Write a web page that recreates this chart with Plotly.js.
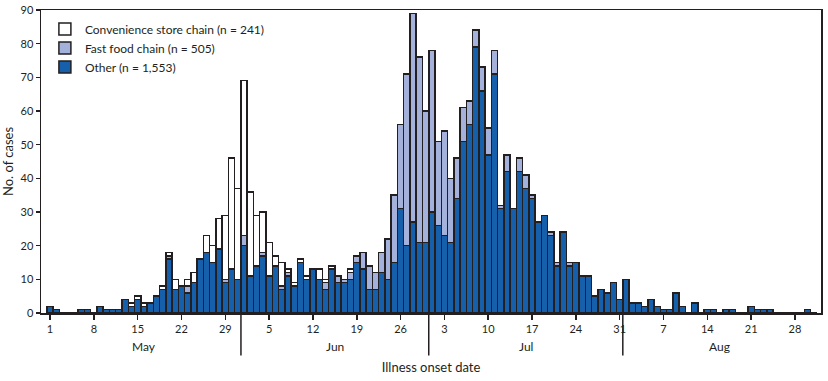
<!DOCTYPE html>
<html>
<head>
<meta charset="utf-8">
<script src="https://cdn.plot.ly/plotly-3.0.1.min.js"></script>
<style>html,body{margin:0;padding:0;background:#fff}#chart{width:828px;height:381px}</style>
</head>
<body>
<div id="chart"></div>
<script>
// Daily case counts, May 1 – Aug 31 (one entry per day)
const other = [
  // May 1-31
  2,1,0,0,0,1,1,0,2,1,1,1,4,2,4,2,3,5,7,16,7,8,6,9,16,18,15,19,9,13,10,
  // Jun 1-30
  20,11,14,17,11,14,7,11,8,15,10,13,10,7,13,9,9,10,15,13,7,7,12,10,15,31,20,27,21,21,
  // Jul 1-31
  30,26,23,21,34,51,56,79,66,47,71,31,42,31,42,37,34,27,29,23,14,24,14,15,11,11,5,7,6,9,4,
  // Aug 1-31
  10,3,3,2,4,2,1,1,6,2,0,3,0,1,1,0,1,1,0,0,2,1,1,1,0,0,0,0,0,1,0
];
const fastFood = [
  // May
  0,0,0,0,0,0,0,0,0,0,0,0,0,0,0,0,0,0,0,1,0,0,2,0,0,0,0,0,1,0,0,
  // Jun
  3,0,0,1,0,0,1,1,0,0,0,0,0,2,0,2,1,2,2,5,7,5,6,12,20,25,51,62,55,39,
  // Jul
  48,25,31,19,12,10,7,5,7,8,7,1,5,0,4,4,1,0,0,1,1,0,1,0,0,0,0,0,0,0,0,
  // Aug
  0,0,0,0,0,0,0,0,0,0,0,0,0,0,0,0,0,0,0,0,0,0,0,0,0,0,0,0,0,0,0
];
const convenience = [
  // May
  0,0,0,0,0,0,0,0,0,0,0,0,0,1,1,1,0,0,1,1,3,0,2,3,0,5,5,9,19,33,27,
  // Jun
  46,25,15,12,10,3,7,1,1,1,1,0,3,1,1,0,0,1,0,0,0,0,0,0,0,0,0,0,0,0,
  // Jul
  0,0,0,0,0,0,0,0,0,0,0,0,0,0,0,0,0,0,0,0,0,0,0,0,0,0,0,0,0,0,0,
  // Aug
  0,0,0,0,0,0,0,0,0,0,0,0,0,0,0,0,0,0,0,0,0,0,0,0,0,0,0,0,0,0,0
];
const seriesNames = ['Other (n = 1,553)', 'Fast food chain (n = 505)', 'Convenience store chain (n = 241)'];
const seriesColors = ['#1660AB', '#A3B1DB', '#FFFFFF'];
const tickLabels = ['1','8','15','22','29','5','12','19','26','3','10','17','24','31','7','14','21','28'];
const months = ['May','Jun','Jul','Aug'];
const monthLengths = [31,30,31,31];

const dayIndex = other.map((_, i) => i);
const ink = '#231F20';
const font = 'Lato, "Open Sans", sans-serif';

const traces = [other, fastFood, convenience].map((vals, k) => ({
  type: 'bar',
  x: dayIndex,
  y: vals,
  name: seriesNames[k],
  marker: {color: seriesColors[k], line: {color: ink, width: 1.5}},
  hoverinfo: 'x+y+name'
}));

const shapes = [];
const annotations = [];
let start = 0;
months.forEach((m, i) => {
  const len = monthLengths[i];
  annotations.push({
    xref: 'x', yref: 'paper', x: start + (len - 1) / 2, y: -0.11,
    text: m, showarrow: false, xanchor: 'center', yanchor: 'middle',
    font: {family: font, size: 12, color: ink}
  });
  if (i < months.length - 1) {
    const b = start + len - 0.5;
    shapes.push({type: 'line', xref: 'x', yref: 'paper', x0: b, x1: b, y0: 0, y1: -0.14,
      line: {color: ink, width: 1.5}});
  }
  start += len;
});

const layout = {
  width: 828, height: 381,
  margin: {l: 41, r: 7, t: 10, b: 68},
  paper_bgcolor: '#fff', plot_bgcolor: '#fff',
  barmode: 'stack', bargap: 0,
  showlegend: true,
  legend: {x: 0.005, y: 0.985, xanchor: 'left', yanchor: 'top', traceorder: 'reversed',
    bgcolor: 'rgba(0,0,0,0)', font: {family: font, size: 12, color: ink}},
  xaxis: {
    range: [-1.44, 123.16],
    tickmode: 'array', tickvals: tickLabels.map((_, i) => i * 7), ticktext: tickLabels,
    ticks: 'outside', ticklen: 5, tickwidth: 1.5, tickcolor: ink,
    showline: true, linecolor: ink, linewidth: 1.5, mirror: true,
    showgrid: false, zeroline: false,
    tickfont: {family: font, size: 11, color: ink},
    title: {text: 'Illness onset date', font: {family: font, size: 13, color: ink}, standoff: 29}
  },
  yaxis: {
    range: [0, 90], dtick: 10, tick0: 0,
    ticks: 'outside', ticklen: 4, tickwidth: 1.5, tickcolor: ink,
    showline: true, linecolor: ink, linewidth: 1.5, mirror: true,
    showgrid: false, zeroline: false,
    tickfont: {family: font, size: 11, color: ink},
    title: {text: 'No. of cases', font: {family: font, size: 13, color: ink}, standoff: 5}
  },
  shapes: shapes,
  annotations: annotations
};

Plotly.newPlot('chart', traces, layout, {displayModeBar: false, staticPlot: true});
</script>
</body>
</html>
